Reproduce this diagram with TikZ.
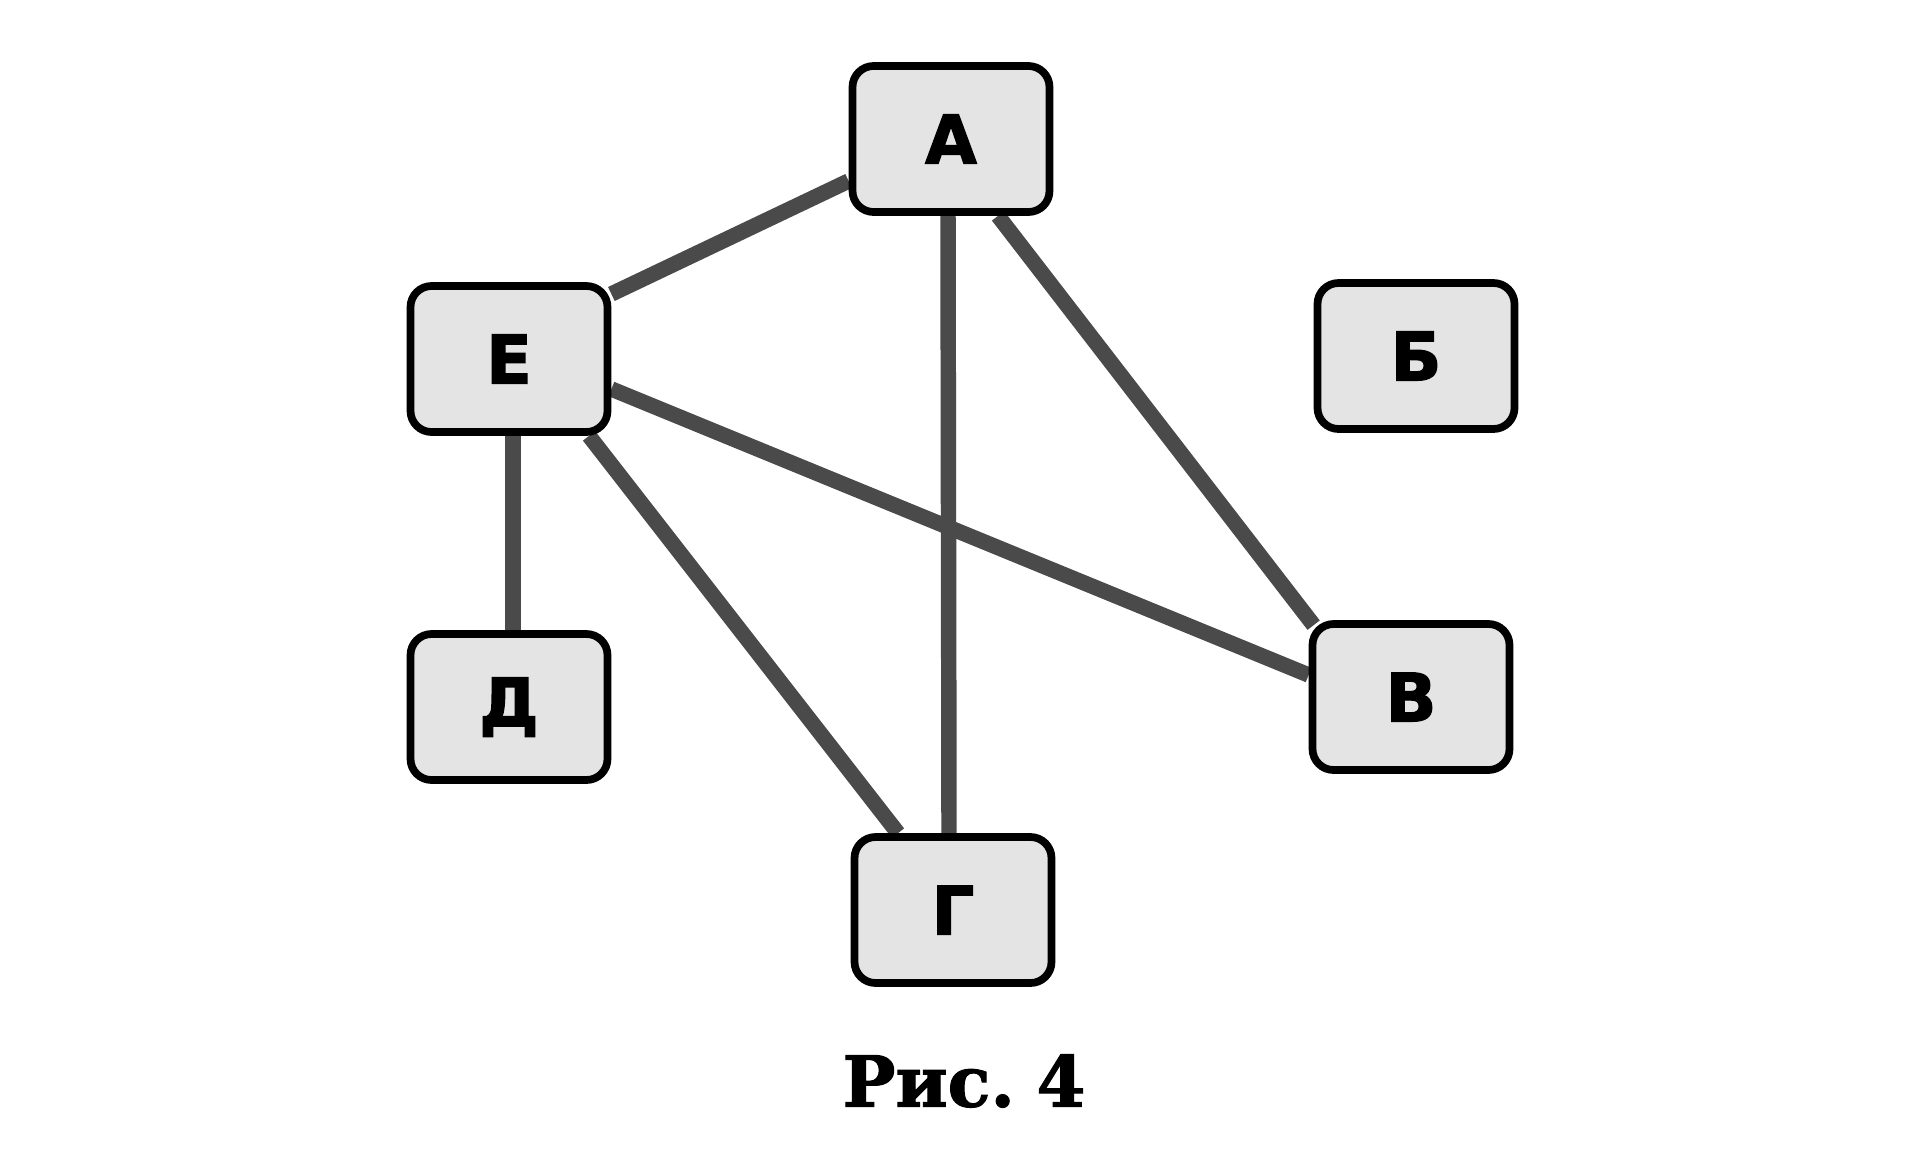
\documentclass[tikz,border=0pt]{standalone}
\usepackage{fontspec}
\usepackage{tikz}
\usetikzlibrary{positioning,backgrounds}
\newfontfamily\boxfont{DejaVu Sans}[FakeBold=2]
\newfontfamily\capfont{DejaVu Serif}[FakeBold=1.5,WordSpace=0.55]
\definecolor{edge}{HTML}{4A4A4A}
\definecolor{cell}{HTML}{E4E4E4}

\tikzset{
  vert/.style={draw=black,fill=cell,line width=2.2pt,rounded corners=6pt,
    minimum width=1.97cm,minimum height=1.46cm,inner sep=0pt,
    font=\boxfont\bfseries\fontsize{19}{22}\selectfont},
  link/.style={edge,line width=4.4pt}
}

\begin{document}
\begin{tikzpicture}
  \useasboundingbox (0,0) rectangle (19.2,-11.66);
  % vertices
  \node[vert] (A) at (9.51,-1.39) {А};
  \node[vert] (E) at (5.09,-3.59) {Е};
  \node[vert] (B) at (14.16,-3.56) {Б};
  \node[vert] (D) at (5.09,-7.07) {Д};
  \node[vert] (V) at (14.11,-6.97) {В};
  \node[vert] (G) at (9.53,-9.10) {Г};
  % edges go under the boxes
  \begin{scope}[on background layer]
    \draw[link] ([yshift=0.65cm]E.east) -- ([yshift=-0.42cm]A.west);
    \draw[link] ([xshift=-0.03cm]A.south) -- ([xshift=-0.04cm]G.north);
    \draw[link] ([xshift=0.47cm]A.south) -- ([shift={(0.05cm,-0.05cm)}]V.north west);
    \draw[link] ([yshift=-0.30cm]E.east) -- ([yshift=0.22cm]V.west);
    \draw[link] ([xshift=0.04cm]E.south) -- ([xshift=0.04cm]D.north);
    \draw[link] ([xshift=0.80cm]E.south) -- ([xshift=-0.55cm]G.north);
  \end{scope}
  % caption
  \node[font=\capfont\bfseries\fontsize{20}{24}\selectfont] (cap) at (9.64,-10.81) {Рис. 4};
\end{tikzpicture}
\end{document}
